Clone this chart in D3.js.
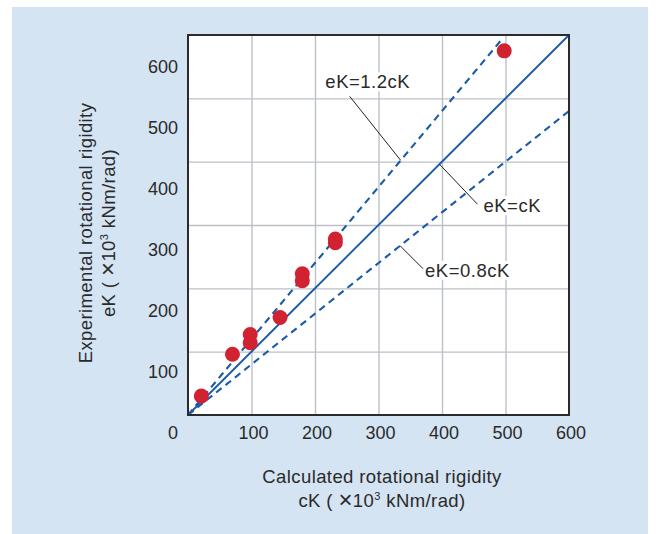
<!DOCTYPE html>
<html>
<head>
<meta charset="utf-8">
<script src="https://cdn.jsdelivr.net/npm/d3@7"></script>
<style>
  body { margin: 0; background: #fff; }
  text { font-family: "Liberation Sans", Arial, sans-serif; fill: #2a2a2a; }
</style>
</head>
<body>
<svg id="chart" width="656" height="534"></svg>
<script>
// measured points (x10^3 kNm/rad)
const cK = [21, 70, 98, 98, 145, 180, 180, 232, 232, 498];
const eK = [30, 96, 127, 114, 154, 223, 212, 278, 272, 575];

// reference lines eK = k * cK
const slopes = [1.2, 1.0, 0.8];
const lineNames = ["eK=1.2cK", "eK=cK", "eK=0.8cK"];
const labelAt = [335, 396, 334]; // cK where the leader meets the line

const gridTicks = [100, 200, 300, 400, 500];
const xTicks = [100, 200, 300, 400, 500, 600];
const yTicks = [0, 100, 200, 300, 400, 500, 600];

const margin = {top: 35, left: 188};
const width = 381;
const height = 380;

const svg = d3.select("#chart");

svg.append("rect")
    .attr("x", 12).attr("y", 7)
    .attr("width", 636).attr("height", 527)
    .attr("fill", "#d4e4f3");

const g = svg.append("g")
    .attr("transform", "translate(" + margin.left + "," + margin.top + ")");

const x = d3.scaleLinear().domain([0, 600]).range([0, width]);
const y = d3.scaleLinear().domain([0, 600]).range([height, 0]);
// the tick labels on the left sit on their own, tighter spacing
const yLab = d3.scaleLinear().domain([0, 600]).range([398, 31.7]);

g.append("rect")
    .attr("width", width).attr("height", height)
    .attr("fill", "#fff");

// grid
g.append("g")
    .attr("class", "grid")
    .call(d3.axisBottom(x).tickValues(gridTicks).tickSize(height).tickFormat(""))
    .call(a => a.select(".domain").remove());
g.append("g")
    .attr("class", "grid")
    .call(d3.axisLeft(y).tickValues(gridTicks).tickSize(-width).tickFormat(""))
    .call(a => a.select(".domain").remove());
g.selectAll(".grid line")
    .attr("stroke", "#bcc1c8")
    .attr("stroke-width", 1.4);

// tick labels
g.append("g")
    .attr("transform", "translate(1.5," + height + ")")
    .call(d3.axisBottom(x).tickValues(xTicks).tickSize(0).tickPadding(11.5))
    .call(a => a.select(".domain").remove())
    .selectAll("text")
    .style("font-size", "18px")
    .attr("fill", "#2a2a2a");

g.append("g")
    .attr("transform", "translate(-10,0)")
    .call(d3.axisLeft(yLab).tickValues(yTicks).tickSize(0).tickPadding(0))
    .call(a => a.select(".domain").remove())
    .selectAll("text")
    .style("font-size", "18px")
    .attr("fill", "#2a2a2a");

// reference lines
g.selectAll(".ref")
    .data(slopes)
    .enter().append("line")
    .attr("class", "ref")
    .attr("x1", x(0)).attr("y1", y(0))
    .attr("x2", d => x(Math.min(600, 600 / d) * (d > 1 ? 0.99 : 1)))
    .attr("y2", d => y(Math.min(600, 600 / d) * (d > 1 ? 0.99 : 1) * d))
    .attr("stroke", "#1a5aa8")
    .attr("stroke-width", d => d == 1 ? 1.9 : 2.1)
    .attr("stroke-dasharray", d => d == 1 ? null : "7,5");

// points
g.selectAll(".dot")
    .data(cK)
    .enter().append("circle")
    .attr("class", "dot")
    .attr("r", 7.5)
    .attr("cx", d => x(d))
    .attr("cy", (d, i) => y(eK[i]))
    .attr("fill", "#d12232");

// annotations: leader end offset and text offset from the point on the line
const leader = [[-51, -64], [38, 40], [23, 23]];
const textPos = [[-33, -72, "middle"], [44, 48, "start"], [25, 31, "start"]];

slopes.forEach(function (k, i) {
    const px = x(labelAt[i]);
    const py = y(labelAt[i] * k);
    const t = g.append("text")
        .attr("x", px + textPos[i][0])
        .attr("y", py + textPos[i][1])
        .attr("text-anchor", textPos[i][2])
        .style("font-size", "18.5px")
        .style("letter-spacing", "0.5px")
        .text(lineNames[i]);
    const bb = t.node().getBBox();
    g.insert("rect", () => t.node())
        .attr("x", bb.x - 2).attr("y", bb.y + 1)
        .attr("width", bb.width + 4).attr("height", bb.height - 2)
        .attr("fill", "#fff");
    g.append("line")
        .attr("x1", px).attr("y1", py)
        .attr("x2", px + leader[i][0]).attr("y2", py + leader[i][1])
        .attr("stroke", "#222")
        .attr("stroke-width", 1);
});

// frame
g.append("rect")
    .attr("width", width).attr("height", height)
    .attr("fill", "none")
    .attr("stroke", "#2b2b2b")
    .attr("stroke-width", 2);

// axis titles
function unitLine(sel, sym) {
    sel.append("tspan").text(sym + " ( ");
    sel.append("tspan").style("font-size", "24px").attr("dy", 1).text("×");
    sel.append("tspan").attr("dy", -1).text("10");
    sel.append("tspan").attr("dy", -7).style("font-size", "11px").text("3");
    sel.append("tspan").attr("dy", 7).text(" kNm/rad)");
}

const xt = svg.append("text")
    .attr("text-anchor", "middle")
    .style("font-size", "18.5px")
    .style("letter-spacing", "0.4px");
xt.append("tspan").attr("x", 382).attr("y", 483).text("Calculated rotational rigidity");
unitLine(xt.append("tspan").attr("x", 382).attr("y", 507), "cK");

const yt = svg.append("text")
    .attr("text-anchor", "middle")
    .attr("transform", "translate(92,233) rotate(-90)")
    .style("font-size", "18.5px")
    .style("letter-spacing", "0.4px");
yt.append("tspan").attr("x", 0).attr("y", 0).text("Experimental rotational rigidity");
unitLine(yt.append("tspan").attr("x", 0).attr("y", 23), "eK");
</script>
</body>
</html>
